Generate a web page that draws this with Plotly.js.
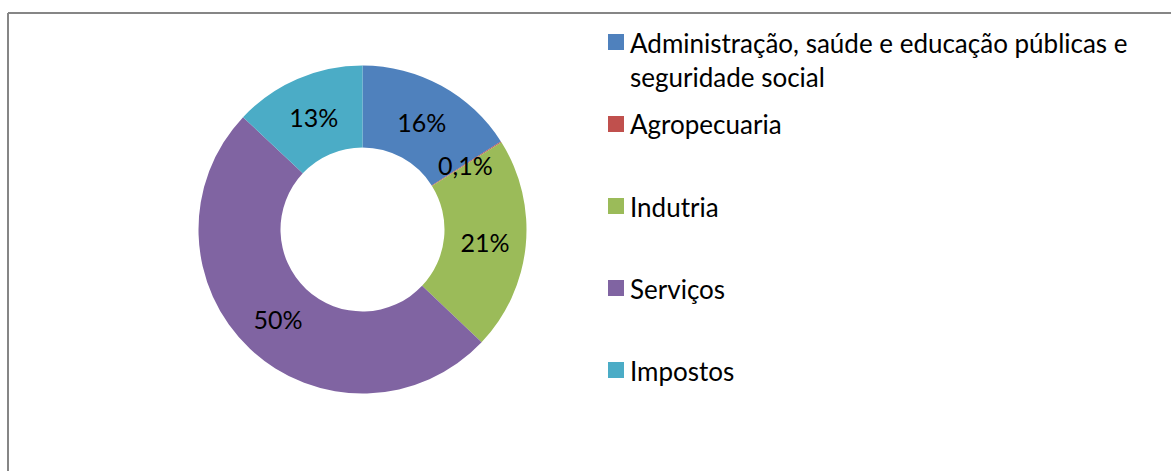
<!DOCTYPE html>
<html>
<head>
<meta charset="utf-8">
<script src="https://cdn.plot.ly/plotly-3.0.1.min.js"></script>
<style>html,body{margin:0;padding:0;background:#fff;}#chart{width:1171px;height:471px;}</style>
</head>
<body>
<div id="chart"></div>
<script>
// ---- data ----
const labels = ['Administração, saúde e educação públicas e seguridade social', 'Agropecuaria', 'Indutria', 'Serviços', 'Impostos'];
const values = [16, 0.1, 21, 50, 13];
const valueLabels = ['16%', '0,1%', '21%', '50%', '13%'];
const colors = ['#4F81BD', '#C0504D', '#9BBB59', '#8064A2', '#4BACC6'];

const W = 1171, H = 471;
const FONT = 'Lato, "Liberation Sans", sans-serif';
const cx = 362.5, cy = 229.5, R = 164;
const dom = {x: [(cx - R) / W, (cx + R) / W], y: [(H - cy - R) / H, (H - cy + R) / H]};

// slices too thin for inside text get an annotation at mid radius
const total = values.reduce((a, b) => a + b, 0);
const textpos = values.map(v => v / total < 0.01 ? 'none' : 'inside');
const annotations = [];
let cum = 0;
values.forEach((v, i) => {
  if (textpos[i] === 'none') {
    const ang = 2 * Math.PI * (cum + v / 2) / total;
    const r = R * 0.74;
    annotations.push({
      xref: 'paper', yref: 'paper', showarrow: false,
      x: (cx + r * Math.sin(ang)) / W, y: (H - (cy - r * Math.cos(ang))) / H,
      text: valueLabels[i], font: {family: FONT, size: 25, color: '#000'},
      xanchor: 'center', yanchor: 'middle'
    });
  }
  cum += v;
});

// legend drawn as shapes + annotations
function wrap(s, n) {
  const words = s.split(' '); const lines = []; let cur = '';
  words.forEach(w => { if ((cur + ' ' + w).trim().length > n) { lines.push(cur); cur = w; } else { cur = (cur + ' ' + w).trim(); } });
  if (cur) lines.push(cur); return lines.join('<br>');
}
const shapes = [];
const legX = 608, legY0 = 42, legStep = 82;
labels.forEach((lab, i) => {
  const yc = legY0 + i * legStep;
  shapes.push({type: 'rect', xref: 'paper', yref: 'paper', x0: legX / W, x1: (legX + 16) / W,
    y0: (H - (yc + 8)) / H, y1: (H - (yc - 8)) / H, fillcolor: colors[i], line: {width: 0}});
  annotations.push({xref: 'paper', yref: 'paper', showarrow: false, align: 'left',
    x: (legX + 20) / W, y: (H - (yc - 17.5)) / H, xanchor: 'left', yanchor: 'top',
    text: wrap(lab, 43), font: {family: FONT, size: 26, color: '#000'}});
});
// frame
shapes.push({type: 'line', xref: 'paper', yref: 'paper', x0: 8 / W, x1: 8 / W, y0: -0.05, y1: (H - 13) / H, line: {color: '#868686', width: 2}});
shapes.push({type: 'line', xref: 'paper', yref: 'paper', x0: 8 / W, x1: 1.05, y0: (H - 13) / H, y1: (H - 13) / H, line: {color: '#868686', width: 2}});

const trace = {
  type: 'pie', labels: labels, values: values, text: valueLabels,
  textinfo: 'text', textposition: textpos, insidetextorientation: 'horizontal',
  textfont: {family: FONT, size: 25, color: '#000'},
  marker: {colors: colors, line: {width: 0}},
  hole: 0.5, sort: false, direction: 'clockwise', rotation: 0,
  domain: dom, showlegend: false, hoverinfo: 'label+text'
};

Plotly.newPlot('chart', [trace], {
  width: W, height: H, margin: {l: 0, r: 0, t: 0, b: 0},
  paper_bgcolor: '#fff', showlegend: false,
  annotations: annotations, shapes: shapes
}, {staticPlot: true});
</script>
</body>
</html>
